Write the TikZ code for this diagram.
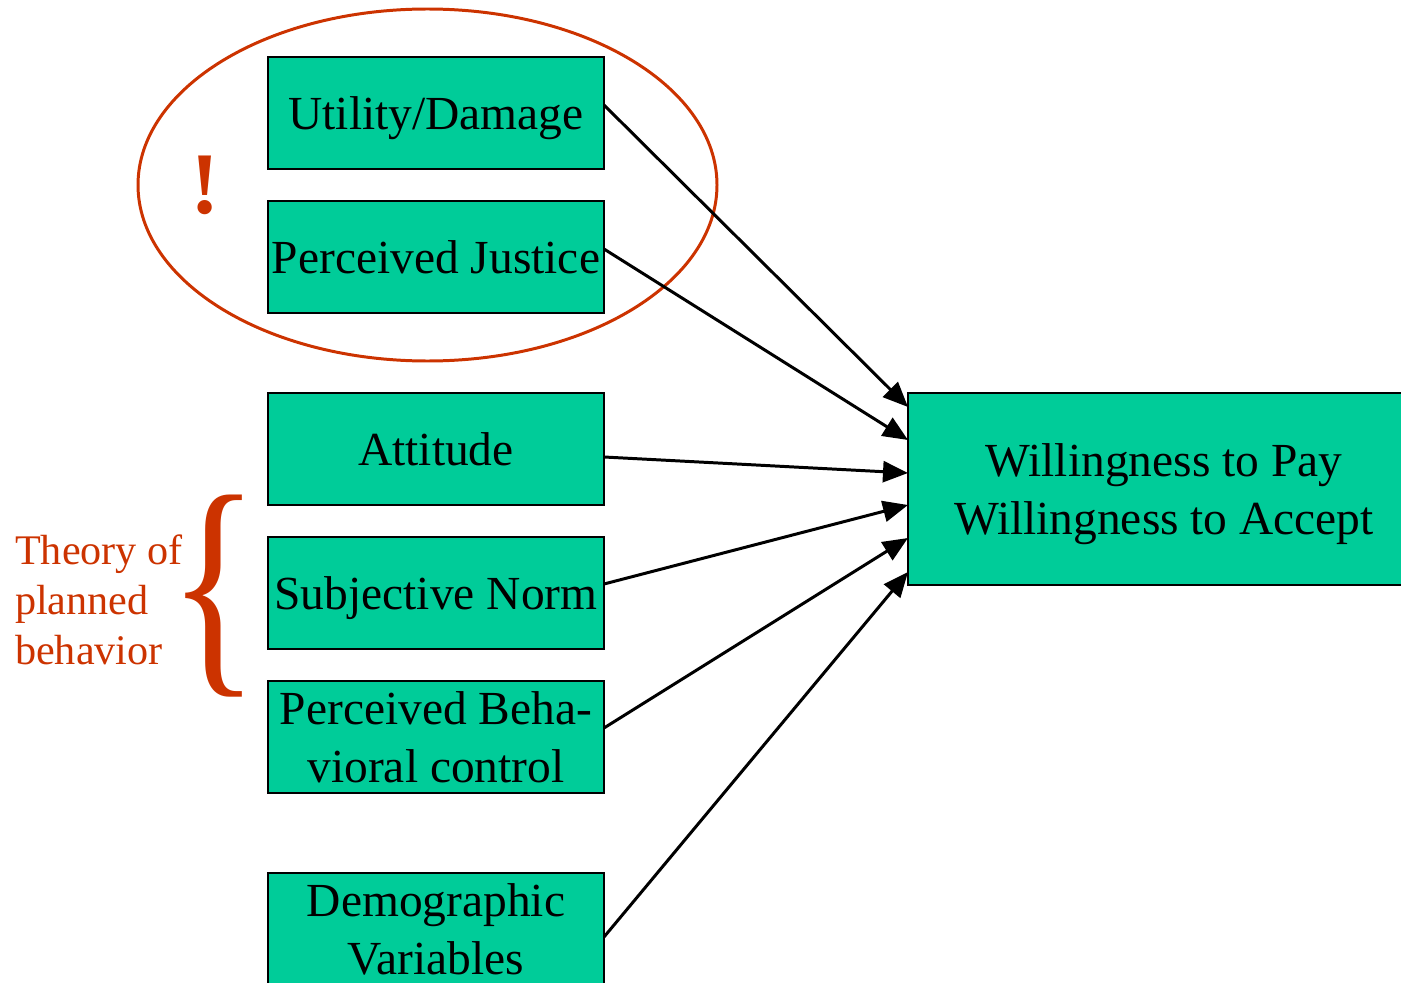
\documentclass[tikz,border=0pt]{standalone}
\usepackage{fontspec}
\setmainfont{Liberation Serif}
\usetikzlibrary{arrows.meta, positioning, calc}
\definecolor{boxcolor}{RGB}{0,204,153}
\definecolor{notecolor}{RGB}{204,51,0}
\tikzset{
    factor/.style={
        rectangle, draw, line width=0.8pt, fill=boxcolor, minimum width=6.72cm,
        minimum height=2.24cm, inner sep=0pt, outer sep=0pt, align=center,
        text depth=0pt, font=\fontsize{27}{32.5}\selectfont
    },
    outcome/.style={
        rectangle, draw, line width=0.8pt, fill=boxcolor, minimum width=10.24cm,
        minimum height=3.84cm, inner sep=0pt, outer sep=0pt, align=center,
        text depth=0pt, font=\fontsize{27}{33}\selectfont
    },
    note/.style={
        text=notecolor, align=left, inner sep=0pt,
        font=\fontsize{24}{28.5}\selectfont
    },
    ring/.style={draw=notecolor, line width=1.7pt},
    arrow/.style={-{Triangle[length=0.5cm, width=0.42cm]}, line width=1.7pt}
}

\begin{document}
\begin{tikzpicture}

\path[use as bounding box, clip] (0,0) rectangle (28.02,-19.66);

% Factors
\node[factor, anchor=north west] (util) at (5.36,-1.14) {Utility/Damage};
\node[factor, below=0.64cm of util] (just) {Perceived Justice};
\node[factor, below=1.6cm of just] (att) {Attitude};
\node[factor, below=0.64cm of att] (subj) {Subjective Norm};
\node[factor, below=0.64cm of subj] (pbc) {Perceived Beha-\\vioral control};
\node[factor, below=1.6cm of pbc] (demo) {Demographic\\Variables};

% Outcome
\node[outcome, right=6.08cm of att.north east, anchor=north west] (wtp)
    {Willingness to Pay\\Willingness to Accept};

% New factors
\coordinate (ringc) at ($(util.south)!0.5!(just.north)+(-0.17,0)$);
\draw[ring] (ringc) ellipse [x radius=5.79cm, y radius=3.52cm];
\node[text=notecolor, font=\bfseries\fontsize{50}{50}\selectfont] (bang)
    at ($(ringc)+(-4.45,0)$) {!};

% Theory of planned behavior
\node[text=notecolor, inner sep=0pt] (tpb) at ($(subj.west)+(-1.08,-0.06)$)
    {\resizebox{1.82cm}{3.39cm}{\{}};
\node[note, anchor=east] (tpblabel) at ($(subj.west)+(-1.7,-0.14)$)
    {Theory of\\planned\\behavior};

% Effects
\draw[arrow] ([yshift=0.16cm]util.east) -- ([yshift=1.64cm]wtp.west);
\draw[arrow] ([yshift=0.16cm]just.east) -- ([yshift=0.98cm]wtp.west);
\draw[arrow] ([yshift=-0.16cm]att.east) -- ([yshift=0.32cm]wtp.west);
\draw[arrow] ([yshift=0.18cm]subj.east) -- ([yshift=-0.32cm]wtp.west);
\draw[arrow] ([yshift=0.18cm]pbc.east) -- ([yshift=-0.98cm]wtp.west);
\draw[arrow] ([yshift=-0.16cm]demo.east) -- ([yshift=-1.66cm]wtp.west);

\end{tikzpicture}
\end{document}
